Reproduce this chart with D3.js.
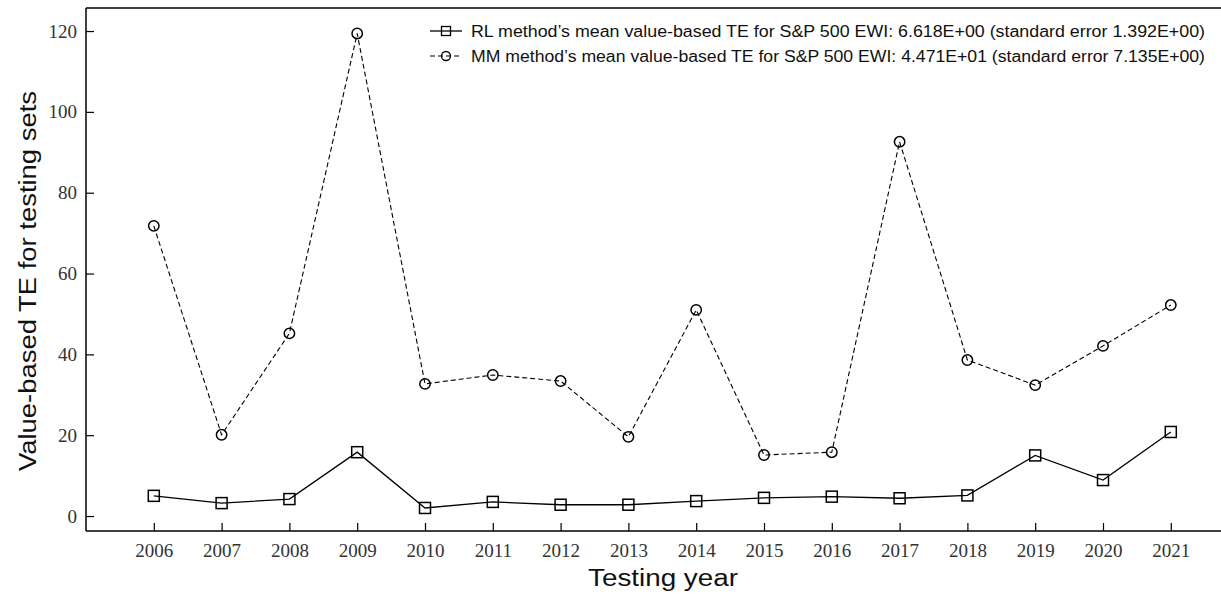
<!DOCTYPE html>
<html lang="en">
<head>
<meta charset="utf-8">
<title>Value-based TE</title>
<script src="https://d3js.org/d3.v7.min.js"></script>
<style>
    body { margin: 0; background: #fff; }
    .tick text { font-family: "Liberation Serif", serif; font-size: 19px; fill: #333; }
    .axis-title { font-family: "Liberation Sans", Arial, sans-serif; font-size: 23px; fill: #111; }
    .legend text { font-family: "Liberation Sans", Arial, sans-serif; font-size: 16px; fill: #111; }
</style>
</head>
<body>
<div id="chart"></div>
<script>
// data
var years = [2006, 2007, 2008, 2009, 2010, 2011, 2012, 2013, 2014, 2015, 2016, 2017, 2018, 2019, 2020, 2021];
var rlValues = [5.0, 3.2, 4.2, 15.8, 2.0, 3.5, 2.8, 2.8, 3.7, 4.5, 4.8, 4.4, 5.1, 15.0, 8.9, 20.8];
var mmValues = [71.8, 20.1, 45.2, 119.4, 32.7, 34.9, 33.4, 19.6, 51.0, 15.1, 15.8, 92.6, 38.6, 32.4, 42.1, 52.2];
var yTicks = [0, 20, 40, 60, 80, 100, 120];
var legendLabels = [
    "RL method\u2019s mean value-based TE for S&P 500 EWI: 6.618E+00 (standard error 1.392E+00)",
    "MM method\u2019s mean value-based TE for S&P 500 EWI: 4.471E+01 (standard error 7.135E+00)"
];

var w = 1221, h = 596;
var plotLeft = 86, plotTop = 8, plotBottom = 531;

var svg = d3.select("#chart").append("svg")
    .attr("width", w)
    .attr("height", h);

// x domain extends past the right edge (the figure is cropped there)
var xScale = d3.scaleLinear()
    .domain([2005, 2022])
    .range([plotLeft, plotLeft + 67.8 * 17]);

var yScale = d3.scaleLinear()
    .domain([-3.7, 125.7])
    .range([plotBottom, plotTop]);

// top frame line
svg.append("line")
    .attr("x1", plotLeft).attr("x2", w).attr("y1", plotTop).attr("y2", plotTop)
    .attr("stroke", "#000").attr("stroke-width", 1.5);

var xAxis = d3.axisBottom(xScale)
    .tickValues(years)
    .tickFormat(d3.format("d"))
    .tickSizeInner(-8)
    .tickSizeOuter(0)
    .tickPadding(13);

var gx = svg.append("g")
    .attr("transform", "translate(0," + plotBottom + ")")
    .call(xAxis);
gx.select(".domain").attr("d", "M" + plotLeft + ",0H" + w).attr("stroke-width", 1.5);
gx.selectAll(".tick line").attr("stroke-width", 1.2);

var yAxis = d3.axisLeft(yScale)
    .tickValues(yTicks)
    .tickSizeInner(-8)
    .tickSizeOuter(0)
    .tickPadding(9);

var gy = svg.append("g")
    .attr("transform", "translate(" + plotLeft + ",0)")
    .call(yAxis);
gy.select(".domain").attr("d", "M0," + plotTop + "V" + plotBottom).attr("stroke-width", 1.5);
gy.selectAll(".tick line").attr("stroke-width", 1.2);

// axis titles
svg.append("text")
    .attr("class", "axis-title")
    .attr("x", 663).attr("y", 586)
    .attr("text-anchor", "middle")
    .attr("textLength", 150)
    .attr("lengthAdjust", "spacingAndGlyphs")
    .text("Testing year");

svg.append("text")
    .attr("class", "axis-title")
    .attr("transform", "translate(36," + 281 + ") rotate(-90)")
    .attr("text-anchor", "middle")
    .attr("textLength", 380)
    .attr("lengthAdjust", "spacingAndGlyphs")
    .text("Value-based TE for testing sets");

var rlData = years.map(function (y, i) { return { year: y, v: rlValues[i] }; });
var mmData = years.map(function (y, i) { return { year: y, v: mmValues[i] }; });

var line = d3.line()
    .x(function (d) { return xScale(d.year); })
    .y(function (d) { return yScale(d.v); });

svg.append("path")
    .datum(mmData)
    .attr("d", line)
    .attr("fill", "none")
    .attr("stroke", "#000")
    .attr("stroke-width", 1.1)
    .attr("stroke-dasharray", "5,3");

svg.append("path")
    .datum(rlData)
    .attr("d", line)
    .attr("fill", "none")
    .attr("stroke", "#000")
    .attr("stroke-width", 1.3);

var sq = 11;
svg.selectAll("rect.rl")
    .data(rlData)
    .enter()
    .append("rect")
    .attr("class", "rl")
    .attr("x", function (d) { return xScale(d.year) - sq / 2; })
    .attr("y", function (d) { return yScale(d.v) - sq / 2; })
    .attr("width", sq).attr("height", sq)
    .attr("fill", "none")
    .attr("stroke", "#000")
    .attr("stroke-width", 1.5);

svg.selectAll("circle.mm")
    .data(mmData)
    .enter()
    .append("circle")
    .attr("class", "mm")
    .attr("cx", function (d) { return xScale(d.year); })
    .attr("cy", function (d) { return yScale(d.v); })
    .attr("r", 5.2)
    .attr("fill", "none")
    .attr("stroke", "#000")
    .attr("stroke-width", 1.5);

// legend
var legend = svg.append("g").attr("class", "legend");
var rows = [31, 56];
legendLabels.forEach(function (label, i) {
    var g = legend.append("g").attr("transform", "translate(430," + rows[i] + ")");
    g.append("line")
        .attr("x1", 0).attr("x2", 32).attr("y1", 0).attr("y2", 0)
        .attr("stroke", "#000")
        .attr("stroke-width", i === 0 ? 1.3 : 1.1)
        .attr("stroke-dasharray", i === 0 ? null : "5,3");
    if (i === 0) {
        g.append("rect")
            .attr("x", 16 - 4.5).attr("y", -4.5).attr("width", 9).attr("height", 9)
            .attr("fill", "none").attr("stroke", "#000").attr("stroke-width", 1.3);
    } else {
        g.append("circle")
            .attr("cx", 16).attr("cy", 0).attr("r", 4.5)
            .attr("fill", "none").attr("stroke", "#000").attr("stroke-width", 1.3);
    }
    g.append("text")
        .attr("x", 41).attr("y", 5.5)
        .attr("textLength", 734)
        .attr("lengthAdjust", "spacingAndGlyphs")
        .text(label);
});
</script>
</body>
</html>
